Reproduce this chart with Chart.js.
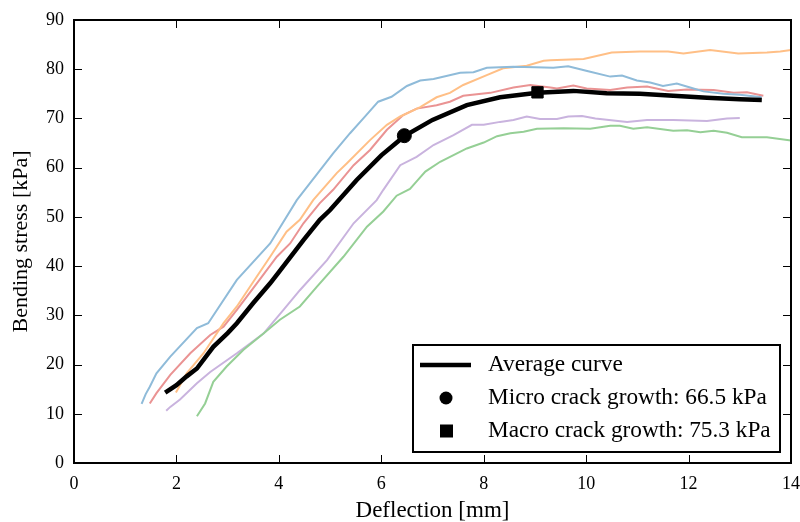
<!DOCTYPE html>
<html>
<head>
<meta charset="utf-8">
<script src="https://cdn.jsdelivr.net/npm/chart.js@4.4.1/dist/chart.umd.min.js"></script>
<style>
  html, body { margin: 0; padding: 0; background: #fff; }
  #wrap { width: 800px; height: 522px; }
</style>
</head>
<body>
<div id="wrap"><canvas id="bending-chart"></canvas></div>
<script>
// tick values
var xTicks = [0, 2, 4, 6, 8, 10, 12, 14];
var yTicks = [0, 10, 20, 30, 40, 50, 60, 70, 80, 90];

// average curve
var avgX = [1.78, 2.0, 2.2, 2.4, 2.72, 3.0, 3.18, 3.5, 3.83, 4.0, 4.48, 4.8, 5.0, 5.52, 6.0, 6.45, 7.0, 7.67, 8.32, 9.05, 9.75, 10.4, 11.05, 11.7, 12.36, 13.0, 13.43];
var avgY = [14.3, 15.8, 17.6, 19.2, 23.6, 26.4, 28.4, 32.5, 36.5, 38.8, 45.3, 49.4, 51.4, 57.5, 62.5, 66.4, 69.7, 72.7, 74.3, 75.2, 75.6, 75.1, 75.0, 74.6, 74.2, 73.9, 73.75];

// crack growth points
var microX = [6.45], microY = [66.5];
var macroX = [9.05], macroY = [75.3];

// individual tests
var blueX = [1.32, 1.40, 1.48, 1.61, 1.88, 2.4, 2.62, 3.18, 3.83, 4.35, 5.06, 5.39, 5.65, 5.94, 6.2, 6.5, 6.76, 7.02, 7.54, 7.8, 8.06, 8.58, 9.0, 9.36, 9.65, 10.08, 10.47, 10.7, 10.99, 11.25, 11.5, 11.77, 12.03, 12.29, 12.68, 13.0, 13.43];
var blueY = [12.0, 14.0, 15.5, 18.2, 21.6, 27.4, 28.4, 37.2, 44.6, 53.4, 62.9, 67.0, 70.0, 73.4, 74.4, 76.6, 77.7, 78.0, 79.3, 79.4, 80.3, 80.5, 80.4, 80.3, 80.6, 79.5, 78.5, 78.7, 77.7, 77.3, 76.6, 77.1, 76.3, 75.5, 75.0, 74.8, 74.3];

var orangeX = [1.99, 2.2, 2.53, 2.92, 3.18, 3.57, 3.83, 4.15, 4.41, 4.67, 5.13, 5.33, 5.78, 6.11, 6.37, 6.76, 7.08, 7.34, 7.6, 8.06, 8.38, 8.84, 9.17, 9.3, 9.95, 10.5, 11.05, 11.6, 11.9, 12.42, 12.97, 13.53, 13.79, 14.0];
var orangeY = [14.3, 18.2, 22.3, 28.4, 31.8, 37.9, 41.9, 47.0, 49.4, 53.4, 58.9, 60.9, 65.6, 68.7, 70.4, 72.3, 74.3, 75.2, 76.8, 78.8, 80.2, 80.7, 81.7, 81.8, 82.1, 83.4, 83.6, 83.6, 83.2, 83.9, 83.2, 83.4, 83.6, 83.9];

var redX = [1.48, 1.61, 1.88, 2.27, 2.66, 2.92, 3.18, 3.57, 3.96, 4.22, 4.48, 4.8, 5.06, 5.46, 5.78, 6.11, 6.43, 6.69, 7.08, 7.34, 7.6, 8.13, 8.58, 8.91, 9.3, 9.43, 9.75, 10.01, 10.47, 10.8, 11.19, 11.6, 11.97, 12.49, 12.88, 13.14, 13.46];
var redY = [12.1, 14.2, 17.9, 22.3, 26.0, 27.7, 31.1, 36.5, 41.9, 44.6, 48.7, 52.8, 55.5, 60.5, 63.6, 67.7, 70.7, 72.0, 72.7, 73.4, 74.6, 75.2, 76.3, 76.8, 76.3, 76.1, 76.7, 76.1, 75.8, 76.3, 76.5, 75.6, 75.9, 75.8, 75.2, 75.3, 74.6];

var greenX = [2.4, 2.56, 2.72, 2.98, 3.31, 3.7, 4.02, 4.41, 4.74, 5.26, 5.72, 6.04, 6.3, 6.56, 6.69, 6.86, 7.15, 7.67, 8.0, 8.26, 8.52, 8.78, 9.04, 9.56, 10.08, 10.47, 10.66, 10.92, 11.19, 11.7, 11.97, 12.23, 12.49, 12.75, 13.04, 13.53, 14.0];
var greenY = [9.5, 12.1, 16.5, 19.6, 23.0, 26.3, 29.1, 31.8, 35.8, 41.9, 48.0, 51.1, 54.3, 55.7, 57.2, 59.2, 61.2, 63.9, 65.1, 66.4, 67.0, 67.3, 67.9, 68.0, 67.9, 68.5, 68.5, 67.9, 68.2, 67.5, 67.6, 67.2, 67.5, 67.1, 66.2, 66.2, 65.5];

var purpleX = [1.8, 1.88, 2.07, 2.4, 2.66, 3.18, 3.7, 4.09, 4.41, 4.94, 5.46, 5.91, 6.04, 6.37, 6.69, 7.02, 7.41, 7.77, 8.0, 8.32, 8.58, 8.84, 9.1, 9.43, 9.65, 9.92, 10.18, 10.8, 11.19, 11.7, 12.36, 12.75, 13.0];
var purpleY = [10.6, 11.4, 12.9, 16.2, 18.5, 22.3, 26.3, 31.1, 35.1, 41.2, 48.7, 53.4, 55.5, 60.5, 62.2, 64.6, 66.6, 68.7, 68.7, 69.3, 69.7, 70.4, 69.9, 69.9, 70.4, 70.5, 70.0, 69.3, 69.7, 69.7, 69.5, 70.0, 70.1];

var legendLabels = ['Average curve', 'Micro crack growth: 66.5 kPa', 'Macro crack growth: 75.3 kPa'];

function pts(xs, ys) {
    return xs.map(function (x, i) { return { x: x, y: ys[i] }; });
}

function thinLine(xs, ys, color) {
    return {
        data: pts(xs, ys),
        showLine: true,
        borderColor: color,
        borderWidth: 2,
        pointRadius: 0,
        tension: 0,
        order: 2
    };
}

var serif = "'Liberation Serif', 'DejaVu Serif', serif";

// frame, inward ticks on all four sides, and the boxed legend
var framePlugin = {
    id: 'frame',
    afterDraw: function (chart) {
        var ctx = chart.ctx;
        var a = chart.chartArea;
        var xs = chart.scales.x, ys = chart.scales.y;
        ctx.save();
        ctx.strokeStyle = '#000';
        ctx.lineWidth = 1;
        ctx.beginPath();
        xTicks.forEach(function (v) {
            var px = Math.round(xs.getPixelForValue(v)) + 0.5;
            ctx.moveTo(px, a.bottom); ctx.lineTo(px, a.bottom - 8);
            ctx.moveTo(px, a.top); ctx.lineTo(px, a.top + 8);
        });
        yTicks.forEach(function (v) {
            var py = Math.round(ys.getPixelForValue(v)) + 0.5;
            ctx.moveTo(a.left, py); ctx.lineTo(a.left + 8, py);
            ctx.moveTo(a.right, py); ctx.lineTo(a.right - 8, py);
        });
        ctx.stroke();
        ctx.lineWidth = 2;
        ctx.strokeRect(a.left, a.top, a.right - a.left, a.bottom - a.top);

        // legend
        var bx = a.right - 378, by = a.bottom - 118, bw = 367, bh = 107;
        ctx.fillStyle = '#fff';
        ctx.fillRect(bx, by, bw, bh);
        ctx.lineWidth = 2;
        ctx.strokeRect(bx, by, bw, bh);
        ctx.fillStyle = '#000';
        ctx.font = '23.3px ' + serif;
        ctx.textBaseline = 'middle';
        var rows = [by + 20, by + 53, by + 86];
        // line sample
        ctx.lineWidth = 4.5;
        ctx.beginPath();
        ctx.moveTo(bx + 7, rows[0]); ctx.lineTo(bx + 58, rows[0]);
        ctx.stroke();
        ctx.beginPath();
        ctx.arc(bx + 33, rows[1], 6.5, 0, Math.PI * 2);
        ctx.fill();
        ctx.fillRect(bx + 27, rows[2] - 6.5, 13, 13);
        legendLabels.forEach(function (t, i) {
            ctx.fillText(t, bx + 75, rows[i]);
        });
        ctx.restore();
    }
};

var ctx = document.getElementById('bending-chart').getContext('2d');
var chart = new Chart(ctx, {
    type: 'scatter',
    data: {
        datasets: [
            {
                label: legendLabels[1],
                data: pts(microX, microY),
                pointStyle: 'circle',
                pointRadius: 7,
                backgroundColor: '#000',
                borderColor: '#000',
                order: 0
            },
            {
                label: legendLabels[2],
                data: pts(macroX, macroY),
                pointStyle: 'rect',
                pointRadius: 8,
                backgroundColor: '#000',
                borderColor: '#000',
                order: 0
            },
            {
                label: legendLabels[0],
                data: pts(avgX, avgY),
                showLine: true,
                borderColor: '#000',
                borderWidth: 4.5,
                pointRadius: 0,
                tension: 0,
                order: 1
            },
            thinLine(blueX, blueY, 'rgb(143,187,217)'),
            thinLine(orangeX, orangeY, 'rgb(255,191,134)'),
            thinLine(redX, redY, 'rgb(234,147,147)'),
            thinLine(greenX, greenY, 'rgb(149,207,149)'),
            thinLine(purpleX, purpleY, 'rgb(201,179,222)')
        ]
    },
    options: {
        responsive: true,
        maintainAspectRatio: false,
        animation: false,
        events: [],
        layout: {
            padding: { top: 20, right: 9, left: 0, bottom: 0 }
        },
        plugins: {
            legend: { display: false },
            tooltip: { enabled: false }
        },
        scales: {
            x: {
                type: 'linear',
                min: 0,
                max: 14,
                afterBuildTicks: function (scale) {
                    scale.ticks = xTicks.map(function (v) { return { value: v }; });
                },
                afterFit: function (scale) {
                    scale.height = 59;
                    scale.paddingLeft = 0;
                    scale.paddingRight = 0;
                },
                grid: { display: false, drawTicks: false },
                border: { display: false },
                ticks: {
                    color: '#000',
                    padding: 10,
                    maxRotation: 0,
                    font: { family: serif, size: 18 }
                },
                title: {
                    display: true,
                    text: 'Deflection [mm]',
                    color: '#000',
                    padding: { top: 0, bottom: 0 },
                    font: { family: serif, size: 23, lineHeight: 1.0 }
                }
            },
            y: {
                type: 'linear',
                min: 0,
                max: 90,
                afterBuildTicks: function (scale) {
                    scale.ticks = yTicks.map(function (v) { return { value: v }; });
                },
                afterFit: function (scale) {
                    scale.width = 74;
                    scale.paddingTop = 0;
                    scale.paddingBottom = 0;
                },
                grid: { display: false, drawTicks: false },
                border: { display: false },
                ticks: {
                    color: '#000',
                    padding: 10,
                    font: { family: serif, size: 18 }
                },
                title: {
                    display: true,
                    text: 'Bending stress [kPa]',
                    color: '#000',
                    padding: { top: 10, bottom: 0 },
                    font: { family: serif, size: 22, lineHeight: 1.0 }
                }
            }
        }
    },
    plugins: [framePlugin]
});
</script>
</body>
</html>
